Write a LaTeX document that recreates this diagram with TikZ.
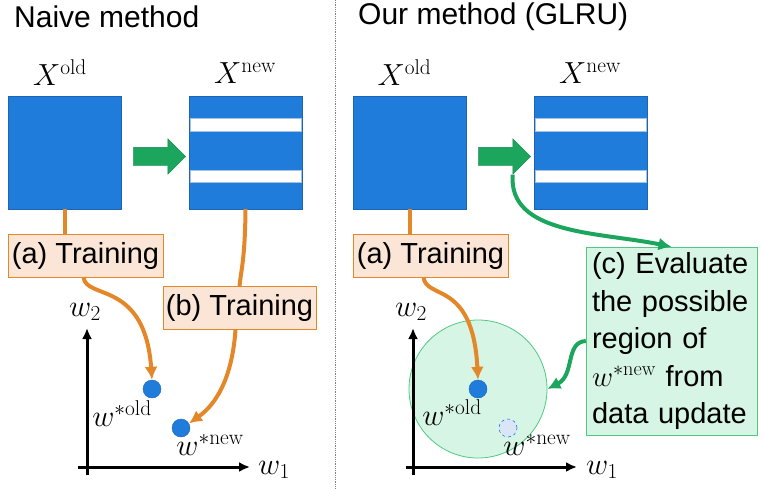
\RequirePackage{fix-cm}
\documentclass[tikz,border=0pt]{standalone}
\usepackage{amsmath}
\usepackage{fontspec}
\setsansfont{Liberation Sans}
\usetikzlibrary{arrows.meta,shapes.arrows,calc}

\definecolor{datablue}{RGB}{31,124,219}
\definecolor{dataedge}{RGB}{30,100,180}
\definecolor{trainline}{RGB}{228,135,40}
\definecolor{trainfill}{RGB}{251,229,214}
\definecolor{updgreen}{RGB}{28,165,92}
\definecolor{regionfill}{RGB}{214,245,228}
\definecolor{regionedge}{RGB}{80,200,130}
\definecolor{ghostblue}{RGB}{218,230,246}

\tikzset{datablock/.style={draw=dataedge,fill=datablue,minimum size=113pt,inner sep=0pt}}
\tikzset{stripe/.style={fill=white,draw=dataedge!40}}
\tikzset{updarrow/.style={single arrow,fill=updgreen,draw=updgreen!80!black,minimum height=52pt,minimum width=35pt,single arrow head extend=8.5pt,inner xsep=0pt,inner ysep=9pt}}
\tikzset{trainbox/.style={draw=trainline,fill=trainfill,font=\sffamily\fontsize{29}{34}\selectfont,inner sep=0pt,minimum height=43pt}}
\tikzset{evalbox/.style={draw=regionedge,fill=regionfill,align=left,font=\sffamily\fontsize{29}{37.5}\selectfont,text width=159pt,inner xsep=6pt,minimum height=188pt}}
\tikzset{feed/.style={line width=4pt,draw=trainline}}
\tikzset{train/.style={line width=4pt,draw=trainline,-{Latex[length=13pt,width=13pt]}}}
\tikzset{evalline/.style={line width=4pt,draw=updgreen,-{Latex[length=13pt,width=13pt]}}}
\tikzset{axes/.style={line width=3pt,-{Latex[length=11pt,width=10pt]}}}
\tikzset{optdot/.style={circle,fill=datablue,draw=dataedge,minimum size=18pt,inner sep=0pt}}
\tikzset{ghostdot/.style={circle,fill=ghostblue,draw=datablue,dashed,line width=0.6pt,minimum size=18pt,inner sep=0pt}}
\tikzset{region/.style={circle,fill=regionfill,draw=regionedge,line width=0.8pt,minimum size=138pt,inner sep=0pt}}
\tikzset{lbl/.style={font=\fontsize{30.5}{34}\selectfont,inner sep=0pt}}
\tikzset{title/.style={font=\sffamily\fontsize{30}{36}\selectfont,anchor=west,inner sep=0pt}}
\tikzset{divider/.style={densely dotted,gray,line width=0.8pt}}

\begin{document}
\begin{tikzpicture}[x=1pt,y=-1pt]
	\useasboundingbox (0,0) rectangle (761,488);

	%% Titles
	\node[title] (naive) at (14,17) {Naive method};
	\node[title] (ours) at (358,17) {Our method (GLRU)};
	\coordinate (divtop) at (335,0);
	\coordinate (divbot) at (335,488);
	\draw[divider] (divtop) -- (divbot);

	%% Naive method
	\node[lbl] (xoldlbl) at (60,73) {$X^{\mathrm{old}}$};
	\node[lbl] (xnewlbl) at (245,73) {$X^{\mathrm{new}}$};
	\node[datablock] (xold) at (64.5,152.5) {};
	\node[updarrow] (upd) at (155,156.5) {};
	\node[datablock] (xnew) at (245.5,152.5) {};
	\draw[stripe] ($(xnew.north west)+(1,22)$) rectangle ($(xnew.north east)+(-1,35)$);
	\draw[stripe] ($(xnew.north west)+(1,74)$) rectangle ($(xnew.north east)+(-1,86)$);

	\node[trainbox,minimum width=155pt] (ta) at (85.5,255.5) {(a) Training};
	\node[trainbox,minimum width=153pt] (tb) at (239.5,308) {(b) Training};

	%% weight space
	\coordinate (ybot) at (87,475);
	\coordinate (ytop) at (87,328);
	\coordinate (xleft) at (78,467);
	\coordinate (xright) at (250,467);
	\draw[axes] (ybot) -- (ytop);
	\draw[axes] (xleft) -- (xright);
	\node[lbl] (wtwo) at (85,312) {$w_2$};
	\node[lbl] (wone) at (274,470) {$w_1$};

	\node[optdot] (wold) at (152,389) {};
	\node[optdot] (wnew) at (181,428) {};
	\node[lbl] (woldlbl) at (122,414) {$w^{*\mathrm{old}}$};
	\node[lbl] (wnewlbl) at (210,445) {$w^{*\mathrm{new}}$};

	\draw[feed] (xold.south) -- (xold.south |- ta.north);
	\draw[train] ([xshift=-2pt]ta.south) .. controls (86,300) and (145,280) .. (wold.north);
	\draw[feed] (xnew.south) .. controls (245,260) and (241,270) .. (tb.north);
	\draw[train] ([xshift=-4pt]tb.south) .. controls (232,380) and (215,405) .. (wnew.30);

	%% Our method
	\node[lbl] (rxoldlbl) at (404.5,73) {$X^{\mathrm{old}}$};
	\node[lbl] (rxnewlbl) at (590,73) {$X^{\mathrm{new}}$};
	\node[datablock] (rxold) at (409.5,152.5) {};
	\node[updarrow] (rupd) at (500,156.5) {};
	\node[datablock] (rxnew) at (590.5,152.5) {};
	\draw[stripe] ($(rxnew.north west)+(1,22)$) rectangle ($(rxnew.north east)+(-1,35)$);
	\draw[stripe] ($(rxnew.north west)+(1,74)$) rectangle ($(rxnew.north east)+(-1,86)$);

	\node[trainbox,minimum width=155pt] (rta) at (430.5,255.5) {(a) Training};
	\node[evalbox] (rc) at (671.5,341) {(c) Evaluate\\the possible\\region of\\$w^{*\mathrm{new}}$ from\\data update};

	\node[region] (reg) at (478,389) {};
	\coordinate (rybot) at (413,475);
	\coordinate (rytop) at (413,328);
	\coordinate (rxleft) at (406,467);
	\coordinate (rxright) at (577,467);
	\draw[axes] (rybot) -- (rytop);
	\draw[axes] (rxleft) -- (rxright);
	\node[lbl] (rwtwo) at (411,312) {$w_2$};
	\node[lbl] (rwone) at (602,470) {$w_1$};

	\node[optdot] (rwold) at (478,389) {};
	\node[ghostdot] (rwnew) at (508,428) {};
	\node[lbl] (rwoldlbl) at (452,413) {$w^{*\mathrm{old}}$};
	\node[lbl] (rwnewlbl) at (537,445) {$w^{*\mathrm{new}}$};

	\draw[feed] (rxold.south) -- (rxold.south |- rta.north);
	\draw[train] ([xshift=-7pt]rta.south) .. controls (426,300) and (473,280) .. (rwold.north);
	\draw[evalline] (rupd.after tip) .. controls (508,235) and (600,232) .. (rc.north);
	\draw[evalline] (rc.west) .. controls (565,342) and (575,375) .. (reg.east);

\end{tikzpicture}
\end{document}
